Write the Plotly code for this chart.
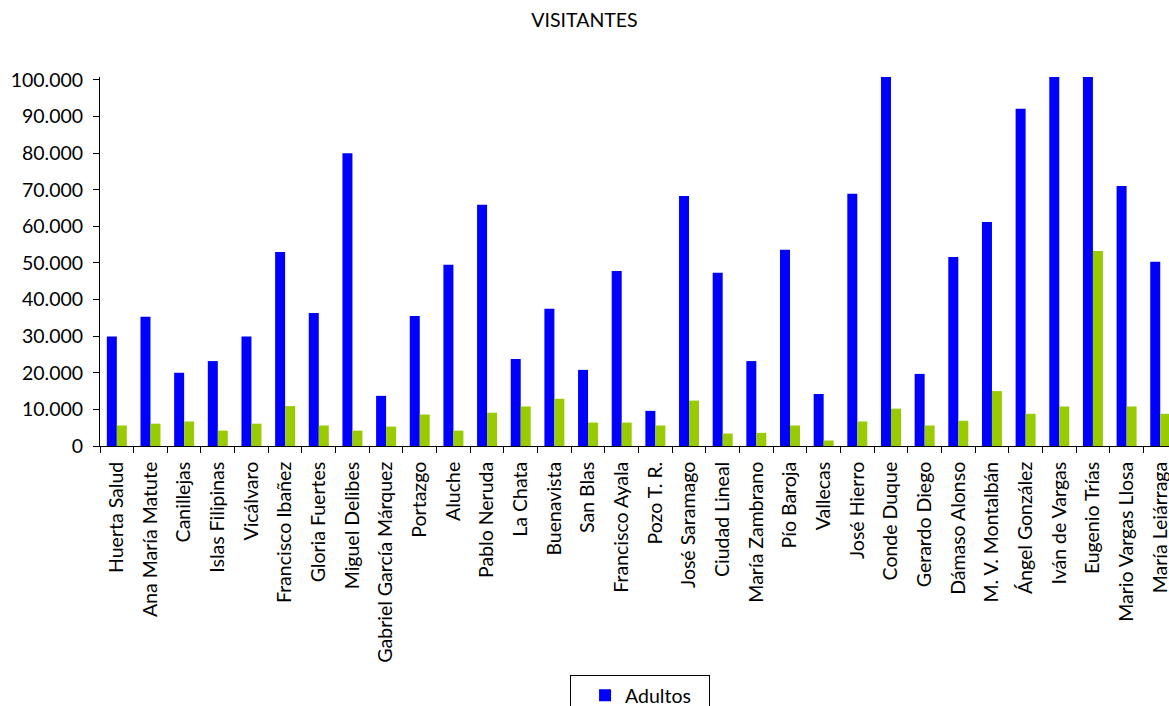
import plotly.graph_objects as go

categories = ["Huerta Salud", "Ana María Matute", "Canillejas", "Islas Filipinas", "Vicálvaro",
              "Francisco Ibañez", "Gloria Fuertes", "Miguel Delibes", "Gabriel García Márquez",
              "Portazgo", "Aluche", "Pablo Neruda", "La Chata", "Buenavista", "San Blas",
              "Francisco Ayala", "Pozo T. R.", "José Saramago", "Ciudad Lineal", "María Zambrano",
              "Pío Baroja", "Vallecas", "José Hierro", "Conde Duque", "Gerardo Diego",
              "Dámaso Alonso", "M. V. Montalbán", "Ángel González", "Iván de Vargas",
              "Eugenio Trías", "Mario Vargas Llosa", "María Leiárraga"]

adultos = [29900, 35300, 20000, 23200, 29900, 53000, 36300, 80000, 13700, 35500,
           49500, 65900, 23800, 37500, 20800, 47800, 9600, 68300, 47300, 23200,
           53600, 14200, 68900, 100800, 19700, 51600, 61200, 92100, 100800, 100800,
           71000, 50300]

infantiles = [5600, 6100, 6700, 4200, 6100, 10900, 5600, 4200, 5300, 8600,
              4200, 9100, 10800, 12900, 6400, 6400, 5600, 12400, 3400, 3600,
              5600, 1500, 6700, 10200, 5600, 6900, 15000, 8800, 10800, 53300,
              10800, 8800]

y_ticks = [0, 10000, 20000, 30000, 40000, 50000, 60000, 70000, 80000, 90000, 100000]

FONT = "Lato"
FS = 19.5
W, H = 1169, 706

fig = go.Figure()
fig.add_trace(go.Bar(name="Adultos", x=categories, y=adultos, marker_color="#0000FF",
                     marker_line_width=0))
fig.add_trace(go.Bar(name="Infantiles", x=categories, y=infantiles, marker_color="#99CC00",
                     marker_line_width=0))

fig.update_layout(
    width=W, height=H,
    paper_bgcolor="white", plot_bgcolor="white",
    separators=",.",
    barmode="group", bargap=0.406, bargroupgap=0,
    font=dict(family=FONT, size=FS, color="#000000"),
    title=dict(text="VISITANTES", x=0.5, xanchor="center", y=1 - 20 / H, yanchor="middle",
               font=dict(family=FONT, size=FS, color="#000000")),
    margin=dict(l=100, r=0, t=77, b=260, autoexpand=False),
    showlegend=True,
    legend=dict(x=0.5052, xanchor="center", y=-0.621, yanchor="top",
                bordercolor="#000000", borderwidth=1, bgcolor="white",
                font=dict(family=FONT, size=FS), orientation="v",
                entrywidth=138, entrywidthmode="pixels", indentation=14,
                traceorder="normal"),
    xaxis=dict(range=[-0.5, 31.26], showline=True, linecolor="#000000", linewidth=1,
               ticks="outside", tickson="boundaries", ticklen=6, tickcolor="#000000",
               tickangle=-90, showgrid=False, zeroline=False, ticklabelstandoff=7,
               tickfont=dict(family=FONT, size=FS)),
    yaxis=dict(range=[0, 100800], tickvals=y_ticks, tickformat=",d",
               showline=True, linecolor="#000000", linewidth=1,
               ticks="outside", ticklen=6, tickcolor="#000000", ticklabelstandoff=6,
               showgrid=False, zeroline=False,
               tickfont=dict(family=FONT, size=FS)),
)

fig.write_html("out.html",
               config={"displayModeBar": False},
               post_script="document.body.style.margin='0';document.body.style.overflow='hidden';")
